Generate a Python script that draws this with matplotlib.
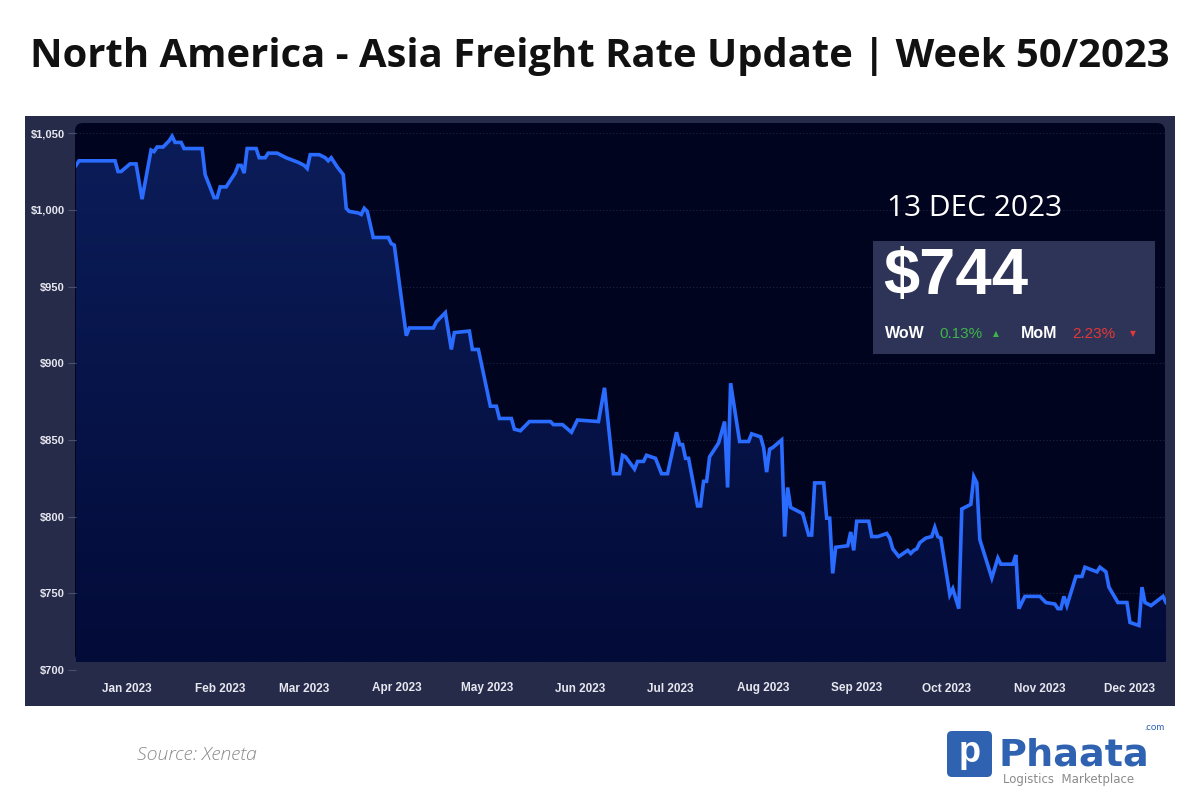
import numpy as np
import pandas as pd
import matplotlib
matplotlib.use("Agg")
import matplotlib.pyplot as plt
import matplotlib.dates as mdates
from matplotlib.patches import FancyBboxPatch, Rectangle
from matplotlib.ticker import FuncFormatter
from matplotlib.colors import LinearSegmentedColormap

# ---------------- data ----------------
dates = [
    "2022-12-15", "2022-12-16", "2022-12-28", "2022-12-29", "2022-12-30",
    "2023-01-02", "2023-01-04", "2023-01-06", "2023-01-09", "2023-01-10", "2023-01-11",
    "2023-01-13", "2023-01-15", "2023-01-16", "2023-01-17", "2023-01-19", "2023-01-20",
    "2023-01-26", "2023-01-27", "2023-01-30", "2023-01-31",
    "2023-02-01", "2023-02-03", "2023-02-04", "2023-02-06", "2023-02-07", "2023-02-08",
    "2023-02-09", "2023-02-10", "2023-02-13", "2023-02-14", "2023-02-16", "2023-02-17",
    "2023-02-20", "2023-02-23", "2023-02-27",
    "2023-03-01", "2023-03-02", "2023-03-03", "2023-03-06", "2023-03-08", "2023-03-09",
    "2023-03-10", "2023-03-12", "2023-03-14", "2023-03-15", "2023-03-16", "2023-03-19",
    "2023-03-20", "2023-03-21", "2023-03-22", "2023-03-24", "2023-03-29", "2023-03-30",
    "2023-03-31",
    "2023-04-04", "2023-04-05", "2023-04-13", "2023-04-14", "2023-04-17", "2023-04-19",
    "2023-04-20", "2023-04-25", "2023-04-26", "2023-04-28",
    "2023-05-02", "2023-05-04", "2023-05-05", "2023-05-09", "2023-05-10", "2023-05-12",
    "2023-05-15", "2023-05-22", "2023-05-23", "2023-05-26", "2023-05-29", "2023-05-31",
    "2023-06-07", "2023-06-09", "2023-06-12", "2023-06-14", "2023-06-15", "2023-06-16",
    "2023-06-19", "2023-06-20", "2023-06-22", "2023-06-23", "2023-06-26", "2023-06-28",
    "2023-06-30",
    "2023-07-03", "2023-07-04", "2023-07-05", "2023-07-06", "2023-07-07", "2023-07-10",
    "2023-07-11", "2023-07-12", "2023-07-13", "2023-07-14", "2023-07-17", "2023-07-19",
    "2023-07-20", "2023-07-21", "2023-07-24", "2023-07-27", "2023-07-28", "2023-07-31",
    "2023-08-01", "2023-08-02", "2023-08-03", "2023-08-04", "2023-08-07", "2023-08-08",
    "2023-08-09", "2023-08-10", "2023-08-14", "2023-08-16", "2023-08-17", "2023-08-18",
    "2023-08-21", "2023-08-22", "2023-08-23", "2023-08-24", "2023-08-25", "2023-08-29",
    "2023-08-30", "2023-08-31",
    "2023-09-01", "2023-09-05", "2023-09-06", "2023-09-08", "2023-09-11", "2023-09-12",
    "2023-09-13", "2023-09-15", "2023-09-18", "2023-09-19", "2023-09-20", "2023-09-21",
    "2023-09-22", "2023-09-24", "2023-09-26", "2023-09-27", "2023-09-28", "2023-09-29",
    "2023-10-02", "2023-10-03", "2023-10-05", "2023-10-06", "2023-10-09", "2023-10-10",
    "2023-10-11", "2023-10-12", "2023-10-16", "2023-10-18", "2023-10-19", "2023-10-23",
    "2023-10-24", "2023-10-25", "2023-10-27",
    "2023-11-01", "2023-11-02", "2023-11-03", "2023-11-06", "2023-11-07", "2023-11-08",
    "2023-11-09", "2023-11-10", "2023-11-13", "2023-11-15", "2023-11-16", "2023-11-20",
    "2023-11-21", "2023-11-23", "2023-11-24", "2023-11-27", "2023-11-30",
    "2023-12-01", "2023-12-04", "2023-12-05", "2023-12-06", "2023-12-08", "2023-12-12",
    "2023-12-13",
]
rates = [
    1029, 1032, 1032, 1025, 1025,
    1030, 1030, 1007, 1039, 1038, 1041,
    1041, 1045, 1048, 1044, 1044, 1040,
    1040, 1023, 1008, 1008,
    1015, 1015, 1018, 1024, 1029, 1029,
    1024, 1040, 1040, 1034, 1034, 1037,
    1037, 1034, 1031,
    1029, 1027, 1036, 1036, 1034, 1032,
    1034, 1028, 1023, 1001, 999, 998,
    997, 1001, 999, 982, 982, 978,
    977,
    918, 923, 923, 927, 933, 909,
    920, 921, 909, 909,
    872, 872, 864, 864, 857, 856,
    862, 862, 860, 860, 855, 863,
    862, 884, 828, 828, 840, 839,
    831, 836, 836, 840, 838, 828,
    828,
    855, 847, 847, 838, 838, 807,
    807, 823, 823, 839, 848, 862,
    819, 887, 849, 849, 854, 852,
    845, 829, 844, 845, 850, 787,
    819, 806, 802, 788, 788, 822,
    822, 799, 799, 763, 780, 781,
    790, 778,
    797, 797, 787, 787, 789, 786,
    779, 774, 778, 776, 778, 779,
    783, 786, 787, 793, 787, 786,
    749, 753, 740, 805, 808, 826,
    822, 785, 760, 773, 769, 769,
    775, 740, 748,
    748, 746, 744, 743, 740, 740,
    748, 742, 761, 761, 767, 764,
    767, 764, 754, 744, 744,
    731, 729, 754, 744, 742, 748,
    744,
]
y_ticks = [700, 750, 800, 850, 900, 950, 1000, 1050]
month_ticks = ["2023-01-01", "2023-02-01", "2023-03-01", "2023-04-01", "2023-05-01",
               "2023-06-01", "2023-07-01", "2023-08-01", "2023-09-01", "2023-10-01",
               "2023-11-01", "2023-12-01"]
title = "North America - Asia Freight Rate Update | Week 50/2023"
date_label = "13 DEC 2023"
price_label = "$744"
wow_label, wow_value = "WoW", "0.13%"
mom_label, mom_value = "MoM", "2.23%"
source = "Source: Xeneta"

# ---------------- figure ----------------
W, H = 1200, 800
fig = plt.figure(figsize=(12, 8), dpi=100)
fig.patch.set_facecolor("white")

bg = fig.add_axes([0, 0, 1, 1])
bg.set_xlim(0, W)
bg.set_ylim(H, 0)
bg.axis("off")

PANEL = "#262b4a"
DARK = "#01041f"
LINE = "#2a6cff"

bg.add_patch(Rectangle((25, 116), 1150, 590, facecolor=PANEL, edgecolor="none", zorder=1))
bg.add_patch(FancyBboxPatch((75 + 8, 123 + 8), 1090 - 16, 539 - 16,
                            boxstyle="round,pad=8", facecolor=DARK, edgecolor="none", zorder=2))

bg.text(600, 57, title, ha="center", va="center", fontsize=28.8, fontweight="bold",
        family="Open Sans", color="#111111", zorder=5)

# ---------------- chart ----------------
x = pd.to_datetime(dates)
y = np.array(rates, dtype=float)
x0, x1 = pd.Timestamp("2022-12-15"), pd.Timestamp("2023-12-13")
ymin, ymax = 700, 1056

ax = fig.add_axes([76 / W, (H - 670) / H, 1090 / W, (670 - 124) / H])
ax.set_facecolor("none")
ax.set_xlim(x0, x1)
ax.set_ylim(ymin, ymax)

# bottom of the dark plot panel (pixel row 662) expressed in data units
fill_floor = ymin + (670 - 662) * (ymax - ymin) / (670 - 124)

poly = ax.fill_between(x, y, fill_floor, facecolor="none", edgecolor="none")
grad = np.linspace(1, 0, 256).reshape(-1, 1)
cmap = LinearSegmentedColormap.from_list("g", ["#030b38", "#0b1d5a"])
xn0, xn1 = mdates.date2num(x0), mdates.date2num(x1)
im = ax.imshow(grad, extent=[xn0, xn1, fill_floor, ymax], aspect="auto", cmap=cmap,
               origin="upper", zorder=1)
im.set_clip_path(poly.get_paths()[0], transform=ax.transData)

ax.plot(x, y, color=LINE, lw=2.6, solid_joinstyle="miter", zorder=3)

for t in y_ticks[1:]:
    ax.axhline(t, color="#1e2448", lw=0.8, ls=(0, (1, 2)), zorder=0.5)

ax.set_yticks(y_ticks)
ax.yaxis.set_major_formatter(FuncFormatter(lambda v, p: f"${v:,.0f}"))
ax.set_xticks(pd.to_datetime(month_ticks))
ax.xaxis.set_major_formatter(mdates.DateFormatter("%b %Y"))
for lab in ax.get_yticklabels() + ax.get_xticklabels():
    lab.set_family("Liberation Sans")
    lab.set_fontweight("bold")
    lab.set_color("#e6e7ef")
ax.tick_params(axis="y", length=6, width=0.8, color="#4a5070", pad=2, labelsize=8)
ax.tick_params(axis="x", length=0, pad=9, labelsize=8.5)
for s in ax.spines.values():
    s.set_visible(False)

# ---------------- overlay (info box, footer) ----------------
ov = fig.add_axes([0, 0, 1, 1])
ov.set_xlim(0, W)
ov.set_ylim(H, 0)
ov.axis("off")
ov.patch.set_alpha(0)

ov.text(887, 208, date_label, ha="left", va="center", fontsize=21.5, family="Open Sans",
        color="white", zorder=6)
ov.add_patch(Rectangle((873, 241), 282, 113, facecolor="#2e3457", edgecolor="none", zorder=5))
ov.text(883, 277, price_label, ha="left", va="center", fontsize=47, fontweight="bold",
        family="Liberation Sans", color="white", zorder=6)
yb = 334
ov.text(885, yb, wow_label, ha="left", va="center", fontsize=11.5, fontweight="bold",
        family="Liberation Sans", color="white", zorder=6)
ov.text(939, yb, wow_value, ha="left", va="center", fontsize=11,
        family="Liberation Sans", color="#3db54a", zorder=6)
ov.text(993, yb, "\u25B2", ha="left", va="center", fontsize=5.5, family="DejaVu Sans",
        color="#3db54a", zorder=6)
ov.text(1021, yb, mom_label, ha="left", va="center", fontsize=11.5, fontweight="bold",
        family="Liberation Sans", color="white", zorder=6)
ov.text(1072, yb, mom_value, ha="left", va="center", fontsize=11,
        family="Liberation Sans", color="#e33838", zorder=6)
ov.text(1130, yb, "\u25BC", ha="left", va="center", fontsize=5.5, family="DejaVu Sans",
        color="#e33838", zorder=6)

ov.text(137, 755, source, ha="left", va="center", fontsize=14, style="italic",
        family="Open Sans", fontweight="light", color="#8a8a8a", zorder=5)

LOGO = "#2f62b0"
ov.add_patch(FancyBboxPatch((952, 736), 35, 36, boxstyle="round,pad=5",
                            facecolor=LOGO, edgecolor="none", zorder=5))
ov.text(969.5, 752, "p", ha="center", va="center", fontsize=26, fontweight="bold",
        family="Liberation Sans", color="white", zorder=6)
ov.text(999, 752, "Phaata", ha="left", va="baseline", fontsize=27.5, fontweight="bold",
        family="DejaVu Sans", color=LOGO, zorder=6, transform=ov.transData) \
    .set_position((999, 766))
ov.text(1165, 727, ".com", ha="right", va="center", fontsize=7, family="Lato",
        color=LOGO, zorder=6)
ov.text(1003, 779, "Logistics  Marketplace", ha="left", va="center", fontsize=8.5,
        family="DejaVu Sans", color="#8a8a8a", zorder=6)

fig.savefig("out.png", dpi=100, facecolor="white")
